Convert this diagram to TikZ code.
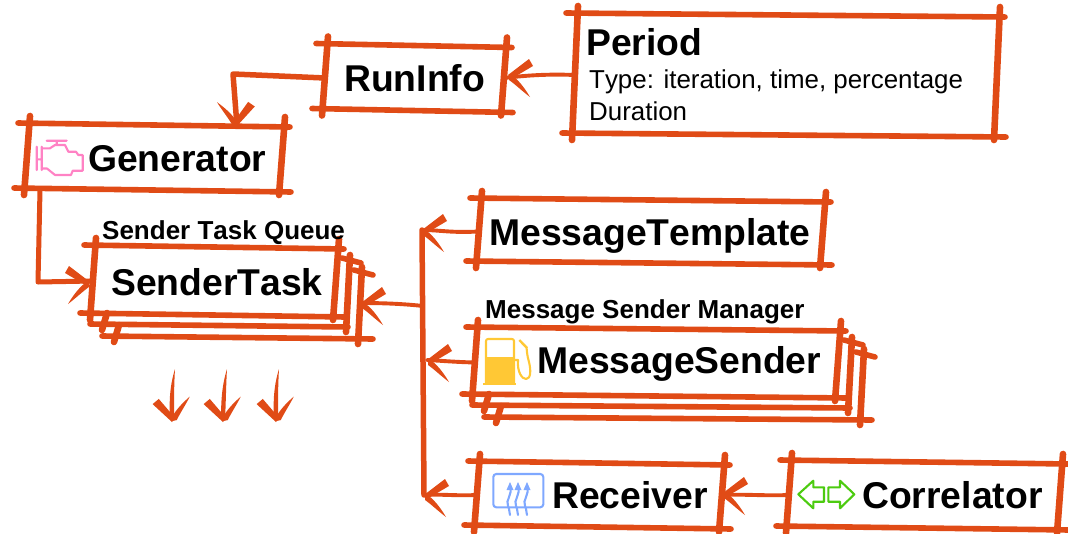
\documentclass[tikz,border=0pt]{standalone}
\usepackage{fontspec}
\setmainfont[Kerning=Off]{Liberation Sans}
\usetikzlibrary{calc}

\definecolor{rust}{HTML}{E04B16}
\definecolor{enginepink}{HTML}{FF82C4}
\definecolor{pumpyellow}{HTML}{FFC835}
\definecolor{heaterblue}{HTML}{7FA8FF}
\definecolor{swapgreen}{HTML}{4CCB10}

% Hand drawn outline round a node
\newcommand{\sketchbox}[1]{
  \draw[rough] ($(#1.north west)+(-9,-2)$) -- ($(#1.north east)+(8,2)$);
  \draw[rough] ($(#1.south west)+(-13,-2)$) -- ($(#1.south east)+(9,2)$);
  \draw[upright] ($(#1.north west)+(3,-9)$) -- ($(#1.south west)+(-3,5)$);
  \draw[upright] ($(#1.north east)+(3,-8)$) -- ($(#1.south east)+(-3,5)$);
}
% Copy behind a node: name, offset, overrun of the bottom line
\newcommand{\stackcopy}[3]{
  \draw[rough] ($(#1.north east)+(#2-6,#2-1)$) -- ($(#1.north east)+(#2+13,#2+4)$);
  \draw[upright] ($(#1.north east)+(#2+2,#2-4)$) -- ($(#1.south east)+(#2-2,#2+5)$);
  \draw[rough] ($(#1.south west)+(#2-15,#2-3)$) -- ($(#1.south east)+(#2+#3,#2)$);
  \draw[upright] ($(#1.south west)+(#2+2,#2-14)$) -- ($(#1.south west)+(#2-3,#2+3)$);
}

\begin{document}
\begin{tikzpicture}[
  x=1pt, y=-1pt,
  cell/.style={inner sep=0pt, outer sep=0pt},
  rough/.style={draw=rust, line width=5.6pt, line cap=round},
  upright/.style={draw=rust, line width=6.6pt, line cap=round},
  link/.style={draw=rust, line width=3.9pt, line cap=round, line join=round},
  heading/.style={anchor=base west, inner sep=0pt, font=\fontsize{37.3}{40}\bfseries\selectfont},
  caption/.style={anchor=base west, inner sep=0pt, font=\fontsize{26}{28}\bfseries\selectfont},
  plain/.style={anchor=base west, inner sep=0pt, font=\fontsize{25.9}{28}\selectfont},
  barbs/.pic={
    \fill[rust] (0,0) -- (21,-16) -- (25,-9) -- (3,4) -- cycle;
    \fill[rust] (1,1) -- (5,1) .. controls (11,6) and (16,12) .. (22,22) .. controls (14,16) and (8,10) .. (1,5) -- cycle;
  },
  icon/.style={line width=2.1pt, line join=round, line cap=round}
]
\useasboundingbox (0,0) rectangle (1068,533);

% Boxes
\node[cell, minimum width=422pt, minimum height=120pt] (period) at (786,75) {};
\node[cell, minimum width=179pt, minimum height=65pt] (runinfo) at (414.5,78) {};
\node[cell, minimum width=255pt, minimum height=65pt] (generator) at (154.5,157.5) {};
\node[cell, minimum width=243pt, minimum height=68pt] (sendertask) at (214.5,281) {};
\node[cell, minimum width=344pt, minimum height=63pt] (template) at (651,231.5) {};
\node[cell, minimum width=363pt, minimum height=67pt] (sender) at (656.5,362.5) {};
\node[cell, minimum width=245pt, minimum height=64pt] (receiver) at (599.5,495) {};
\node[cell, minimum width=271pt, minimum height=66pt] (correlator) at (924.5,495) {};

\sketchbox{period}
\sketchbox{runinfo}
\sketchbox{generator}
\sketchbox{sendertask}
\stackcopy{sendertask}{12}{0}
\stackcopy{sendertask}{24}{13}
\sketchbox{template}
\sketchbox{sender}
\stackcopy{sender}{12}{0}
\stackcopy{sender}{24}{10}
\sketchbox{receiver}
\sketchbox{correlator}

% Labels
\node[heading] (periodlabel) at (586,55) {Period};
\node[plain] (typelabel) at (589,88) {Type: iteration, time, percentage};
\node[plain] (durationlabel) at (589,120) {Duration};
\node[heading] (runinfolabel) at (344,91) {RunInfo};
\node[heading] (generatorlabel) at (88,171) {Generator};
\node[caption] (queuelabel) at (102,239) {Sender Task Queue};
\node[heading] (sendertasklabel) at (111,295) {SenderTask};
\node[heading] (templatelabel) at (489,245) {MessageTemplate};
\node[caption] (managerlabel) at (485,318) {Message Sender Manager};
\node[heading] (senderlabel) at (537,373) {MessageSender};
\node[heading] (receiverlabel) at (552,508) {Receiver};
\node[heading] (correlatorlabel) at (862,508) {Correlator};

% Points on the lines
\coordinate (runbend) at (233,74);
\coordinate (genin) at (237,126);
\coordinate (genbend) at (38,282);
\coordinate (bustop) at (422,230);
\coordinate (busbottom) at (424,495);
\coordinate (busmid) at (423,306);
\coordinate (bussender) at (427,360);
\coordinate (queuein) at (361,303);

% Connectors
\draw[link] (period.west) .. controls (550,74) and (530,75) .. (runinfo.east);
\draw[link, line width=5.5pt] (runinfo.west) -- (runbend) -- (genin);
\draw[link, line width=5pt] ($(generator.south west)+(13,0)$) -- (genbend) -- (sendertask.west);
\draw[link] (template.west) .. controls (450,233) and (440,230) .. (bustop);
\draw[link, line width=5.5pt] (bustop) -- (busbottom);
\draw[link] (sender.west) .. controls (455,362) and (445,361) .. (bussender);
\draw[link] (receiver.west) .. controls (455,496) and (445,494) .. (busbottom);
\draw[link] (busmid) .. controls (405,304) and (385,303) .. (queuein);
\draw[link] (correlator.west) .. controls (765,496) and (745,494) .. (receiver.east);

% Arrow heads
\pic at ($(runinfo.east)+(4,-3)$) {barbs};
\pic[rotate=85, yscale=-1] at (genin) {barbs};
\pic[xscale=-1] at ($(sendertask.west)+(-3,1)$) {barbs};
\pic at (queuein) {barbs};
\pic at (bustop) {barbs};
\pic at (bussender) {barbs};
\pic at (busbottom) {barbs};
\pic at ($(receiver.east)+(1,-2)$) {barbs};

% Loose arrows below the queue
\foreach \tipx/\topx in {172/175,223/227,276/279}{
  \coordinate (looseend) at (\tipx,422);
  \fill[rust] (\topx,369) .. controls (\topx-5,385) and (\topx-6,400) .. (\tipx-2,420) -- (\tipx+2,420) .. controls (\topx-1,400) and (\topx-1,385) .. (\topx,369) -- cycle;
  \pic[rotate=100] at (looseend) {barbs};
}

% Engine
\draw[icon, enginepink] (36.7,146.7) -- (36.7,170) (36.7,159.3) -- (41.7,159.3) (41.7,146.7) -- (41.7,170)
  (46.7,140.7) -- (66.7,140.7) (56.7,140.7) -- (56.7,145)
  (41.7,148.3) -- (50,148.3) -- (55,145) -- (65,145) -- (68.3,151.7) -- (76,151.7) -- (78.3,155) -- (82.7,155)
  -- (82.7,170.7) -- (72.7,170.7) -- (71,175) -- (55,175) -- (47,168.5) -- (41.7,168.5);

% Fuel pump
\draw[icon, pumpyellow, rounded corners=2pt] (486,384) -- (486,339) -- (514,339) -- (514,384);
\fill[pumpyellow] (486,357) rectangle (514,383);
\draw[pumpyellow, line width=2pt] (483.3,384) -- (516,384);
\draw[icon, pumpyellow] (514,360) -- (518,360) .. controls (517,372) and (522,379) .. (526,379)
  .. controls (531,379) and (531,370) .. (529,362) .. controls (527,355) and (527,352) .. (526.5,347);
\draw[pumpyellow, line width=2.4pt] (519.3,340) -- (527,348);

% Heater
\draw[icon, heaterblue, rounded corners=3pt] (493.3,474) rectangle (543.3,507.3);
\foreach \wavex in {510,518,527}{
  \draw[icon, heaterblue] (\wavex,486) .. controls (\wavex+3,495) and (\wavex-5,500) .. (\wavex-2,506) .. controls (\wavex,510) and (\wavex-1,513) .. (\wavex,515);
  \fill[heaterblue] (\wavex,482) -- (\wavex+3.5,490) -- (\wavex-3.5,490) -- cycle;
}

% Exchange arrows
\draw[icon, swapgreen] (798.3,494.3) -- (813.3,480.7) -- (813.3,487.3) -- (824,487.3) -- (824,501.7) -- (813.3,501.7) -- (813.3,508.3) -- cycle;
\draw[icon, swapgreen] (854.3,494.3) -- (840,480.7) -- (840,487.3) -- (828.3,487.3) -- (828.3,501.7) -- (840,501.7) -- (840,508.3) -- cycle;

\end{tikzpicture}
\end{document}
